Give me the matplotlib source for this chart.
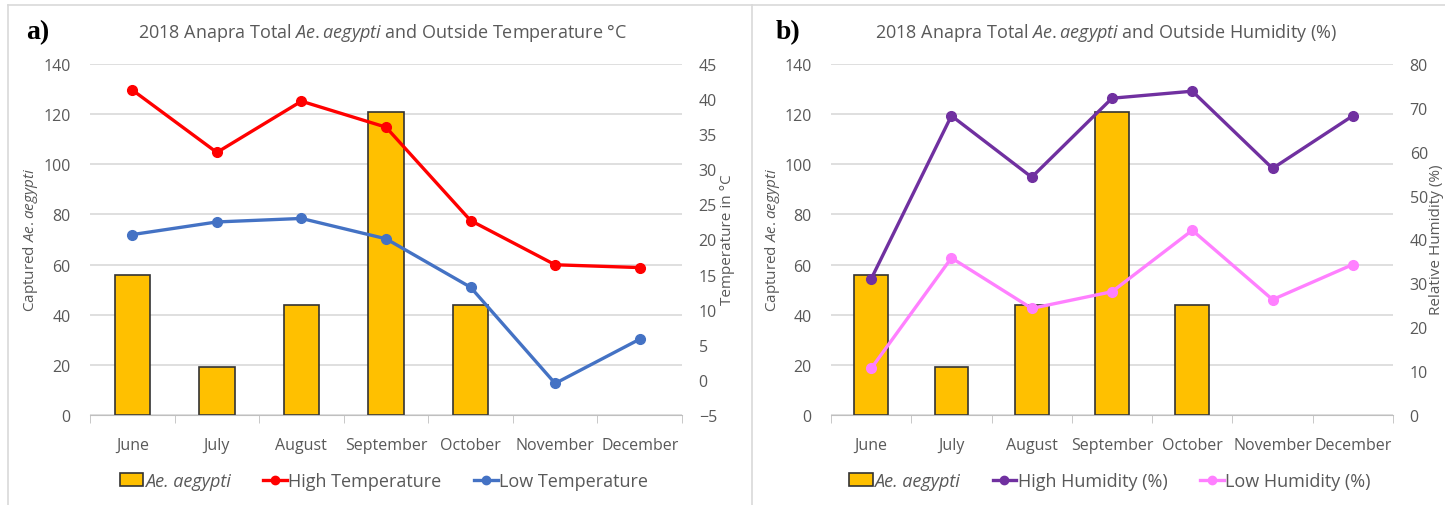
import matplotlib
matplotlib.use("Agg")
import matplotlib.pyplot as plt
from matplotlib import font_manager
from matplotlib.lines import Line2D
from matplotlib.patches import Patch
import numpy as np

months = ["June", "July", "August", "September", "October", "November", "December"]
mosquitoes = [56, 19, 44, 121, 44, np.nan, np.nan]
high_temp = [41.3, 32.4, 39.7, 36.0, 22.7, 16.4, 16.0]
low_temp = [20.7, 22.5, 23.0, 20.1, 13.2, -0.5, 5.8]
high_hum = [31.0, 68.2, 54.2, 72.2, 73.8, 56.2, 68.2]
low_hum = [10.6, 35.8, 24.3, 28.1, 42.1, 26.3, 34.3]

names = {f.name for f in font_manager.fontManager.ttflist}
fam = "Liberation Sans Narrow" if "Liberation Sans Narrow" in names else "Open Sans"
plt.rcParams["font.family"] = [fam, "DejaVu Sans"]
plt.rcParams["mathtext.fontset"] = "custom"
plt.rcParams["mathtext.rm"] = fam
plt.rcParams["mathtext.it"] = fam + ":italic"

W, H = 1445, 506
fig = plt.figure(figsize=(W / 100, H / 100), dpi=100)
gray = "#595959"
bar_color = "#FFC000"
# mathtext puts a small space after the period by itself
species = r"$\mathit{Ae.aegypti}$"


def px_axes(x0, x1, y0, y1):
    return fig.add_axes([x0 / W, 1 - y1 / H, (x1 - x0) / W, (y1 - y0) / H])


def draw_panel(x0, x1, right_vals, right_lim, right_ticks, right_label, colors, labels,
               title, letter, letter_x, title_x, legend_x, left_label_x, right_label_x):
    ax = px_axes(x0, x1, 65, 416)
    x = np.arange(len(months))
    ax.bar(x, mosquitoes, width=0.42, color=bar_color, edgecolor="#333333",
           linewidth=1.2, zorder=2)
    ax.set_xlim(-0.5, len(months) - 0.5)
    ax.set_ylim(0, 140)
    ax.set_yticks(range(0, 141, 20))
    ax.grid(axis="y", color="#d9d9d9", linewidth=1.2, zorder=0)
    ax.set_axisbelow(True)
    for s in ["top", "right", "left"]:
        ax.spines[s].set_visible(False)
    ax.spines["bottom"].set_color("#bfbfbf")
    ax.set_xticks(x)
    ax.set_xticklabels(months)
    ax.set_xticks(np.arange(-0.5, len(months)), minor=True)
    ax.tick_params(axis="x", which="major", length=0, pad=16, labelsize=11.5, colors=gray)
    ax.tick_params(axis="x", which="minor", length=6, color="#bfbfbf")
    ax.tick_params(axis="y", length=0, pad=14, labelsize=11.5, colors=gray)

    ax2 = ax.twinx()
    ax2.set_ylim(*right_lim)
    ax2.set_yticks(right_ticks)
    for s in ax2.spines.values():
        s.set_visible(False)
    ax2.tick_params(axis="y", length=0, pad=12, labelsize=11.5, colors=gray)
    for vals, c in zip(right_vals, colors):
        ax2.plot(x, vals, color=c, linewidth=2.4, marker="o", markersize=7, zorder=3)

    fig.text(left_label_x / W, 1 - 240 / H, "Captured " + species,
             rotation=90, ha="center", va="center", fontsize=11, color=gray)
    fig.text(right_label_x / W, 1 - 240 / H, right_label, rotation=90,
             ha="center", va="center", fontsize=11, color=gray)
    fig.text(title_x / W, 1 - 33 / H, title, ha="center", va="center",
             fontsize=13, color=gray)
    fig.text(letter_x / W, 1 - 33 / H, letter, ha="center", va="center",
             fontsize=20, fontweight="bold", family="Liberation Serif", color="black")

    handles = [Patch(facecolor=bar_color, edgecolor="#333333", linewidth=1.2)]
    for c in colors:
        handles.append(Line2D([0], [0], color=c, linewidth=2.4, marker="o", markersize=6))
    leg = fig.legend(handles, ["Ae. aegypti"] + labels, loc="center",
                     bbox_to_anchor=(legend_x / W, 1 - 482 / H), ncol=3, frameon=False,
                     fontsize=13, handlelength=1.3, handletextpad=0.1, columnspacing=1.8,
                     labelcolor=gray)
    leg.get_texts()[0].set_style("italic")


draw_panel(90, 682, [high_temp, low_temp], (-5, 45), range(-5, 46, 5),
           "Temperature in °C", ["#FF0000", "#4472C4"],
           ["High Temperature", "Low Temperature"],
           "2018 Anapra Total " + species + " and Outside Temperature °C",
           "a)", 38, 383, 384, 31, 728)
draw_panel(831, 1393, [high_hum, low_hum], (0, 80), range(0, 81, 10),
           "Relative Humidity (%)", ["#7030A0", "#FF80FF"],
           ["High Humidity (%)", "Low Humidity (%)"],
           "2018 Anapra Total " + species + " and Outside Humidity (%)",
           "b)", 788, 1106, 1110, 772, 1436)

# panel frames
border = "#d9d9d9"
fig.add_artist(Line2D([8 / W, 8 / W], [0, 1 - 6 / H], color=border, linewidth=1.2))
fig.add_artist(Line2D([8 / W, 1], [1 - 6 / H, 1 - 6 / H], color=border, linewidth=1.2))
fig.add_artist(Line2D([752 / W, 752 / W], [0, 1 - 6 / H], color=border, linewidth=1.2))

fig.savefig("out.png", dpi=100)
